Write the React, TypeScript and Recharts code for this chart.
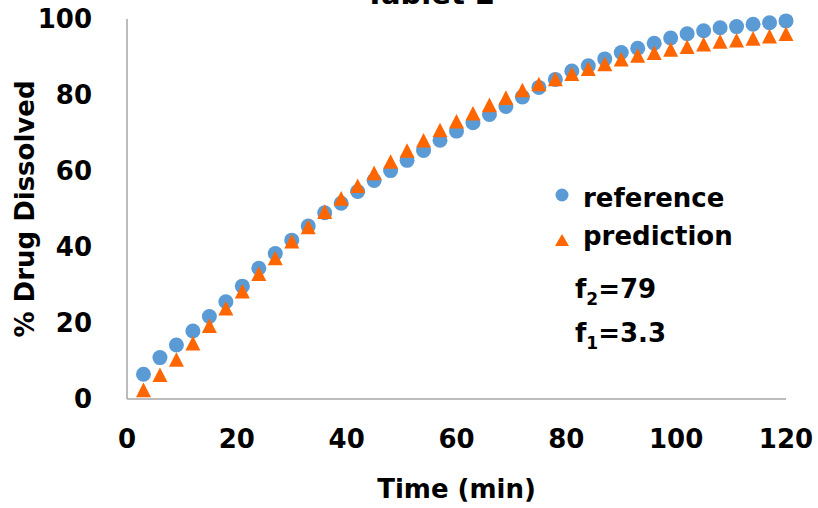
import React from 'react';
import { ScatterChart, Scatter, XAxis, YAxis, Legend } from 'recharts';

// Sampling times (min)
const times = [
  3, 6, 9, 12, 15, 18, 21, 24, 27, 30, 33, 36, 39, 42, 45, 48, 51, 54, 57, 60,
  63, 66, 69, 72, 75, 78, 81, 84, 87, 90, 93, 96, 99, 102, 105, 108, 111, 114, 117, 120,
];

// % drug dissolved, measured reference profile
const referenceValues = [
  6.5, 10.9, 14.2, 17.9, 21.7, 25.6, 29.7, 34.4, 38.3, 41.8,
  45.5, 49.0, 51.5, 54.6, 57.5, 60.1, 62.8, 65.4, 68.1, 70.5,
  72.7, 74.9, 77.0, 79.5, 82.0, 84.1, 86.3, 87.7, 89.5, 91.2,
  92.3, 93.6, 95.0, 96.1, 96.9, 97.7, 98.0, 98.6, 99.0, 99.5,
];

// % drug dissolved, model prediction
const predictionValues = [
  2.4, 6.4, 10.4, 14.7, 19.3, 23.9, 28.4, 33.0, 37.1, 41.5,
  45.3, 49.3, 52.8, 56.1, 59.5, 62.5, 65.4, 68.1, 70.8, 73.1,
  75.2, 77.4, 79.3, 81.3, 82.9, 84.2, 85.6, 86.9, 88.2, 89.4,
  90.4, 91.1, 92.0, 92.7, 93.4, 94.1, 94.4, 94.9, 95.5, 96.1,
];

const xTicks = [0, 20, 40, 60, 80, 100, 120];
const yTicks = [0, 20, 40, 60, 80, 100];

const similarityF2 = '79';
const differenceF1 = '3.3';

const BLUE = '#5B9BD5';
const ORANGE = '#FF6600';
const AXIS_GRAY = '#A6A6A6';
const FONT = "'DejaVu Sans', sans-serif";

const referenceRows = times.map((t, i) => ({ t, v: referenceValues[i] }));
const predictionRows = times.map((t, i) => ({ t, v: predictionValues[i] }));

const CircleMark = (props: any) => {
  const { cx, cy } = props;
  if (cx == null || cy == null) return null;
  return <circle cx={cx} cy={cy} r={7.5} fill={BLUE} />;
};

const TriangleMark = (props: any) => {
  const { cx, cy } = props;
  if (cx == null || cy == null) return null;
  const w = 7.5;
  const h = 7.3;
  return (
    <polygon
      points={`${cx},${cy - h} ${cx - w},${cy + h} ${cx + w},${cy + h}`}
      fill={ORANGE}
    />
  );
};

const tickStyle = { fill: '#000', fontSize: 26, fontWeight: 'bold', fontFamily: FONT };

const LegendBox = () => (
  <svg width={260} height={190} style={{ overflow: 'visible' }}>
    <circle cx={22} cy={25} r={6.5} fill={BLUE} />
    <text x={43} y={37} fontFamily={FONT} fontWeight="bold" fontSize={26} fill="#000">
      reference
    </text>
    <polygon points="22,64 15,76 29,76" fill={ORANGE} />
    <text x={43} y={75} fontFamily={FONT} fontWeight="bold" fontSize={26} fill="#000">
      prediction
    </text>
    <text x={35} y={128} fontFamily={FONT} fontWeight="bold" fontSize={26} fill="#000">
      f
      <tspan fontSize={17} dy={7}>2</tspan>
      <tspan dy={-7}>={similarityF2}</tspan>
    </text>
    <text x={35} y={172} fontFamily={FONT} fontWeight="bold" fontSize={26} fill="#000">
      f
      <tspan fontSize={17} dy={7}>1</tspan>
      <tspan dy={-7}>={differenceF1}</tspan>
    </text>
  </svg>
);

export default function App() {
  return (
    <div style={{ position: 'absolute', left: 0, top: 0, width: 818, height: 508, background: '#fff' }}>
      <ScatterChart width={818} height={508} margin={{ top: 19, right: 32, left: 0, bottom: 0 }}>
        <XAxis
          type="number"
          dataKey="t"
          domain={[0, 120]}
          ticks={xTicks}
          height={109}
          axisLine={{ stroke: AXIS_GRAY, strokeWidth: 1.5 }}
          tickLine={false}
          tickSize={0}
          tickMargin={31}
          tick={tickStyle}
          label={{
            value: 'Time (min)',
            position: 'insideBottom',
            offset: 10,
            style: { fill: '#000', fontSize: 26, fontWeight: 'bold', fontFamily: FONT },
          }}
        />
        <YAxis
          type="number"
          dataKey="v"
          domain={[0, 100]}
          ticks={yTicks}
          width={127}
          axisLine={{ stroke: AXIS_GRAY, strokeWidth: 1.5 }}
          tickLine={false}
          tickSize={0}
          tickMargin={35}
          tick={tickStyle}
          label={{
            value: '% Drug Dissolved',
            angle: -90,
            position: 'insideLeft',
            offset: 25,
            style: { textAnchor: 'middle', fill: '#000', fontSize: 26, fontWeight: 'bold', fontFamily: FONT },
          }}
        />
        <Legend
          layout="vertical"
          align="center"
          verticalAlign="middle"
          wrapperStyle={{ left: 540, top: 170, width: 260, height: 190 }}
          content={() => <LegendBox />}
        />
        <Scatter
          name="reference"
          data={referenceRows}
          fill={BLUE}
          shape={CircleMark}
          isAnimationActive={false}
        />
        <Scatter
          name="prediction"
          data={predictionRows}
          fill={ORANGE}
          shape={TriangleMark}
          isAnimationActive={false}
        />
      </ScatterChart>
      <svg
        width={818}
        height={30}
        style={{ position: 'absolute', left: 0, top: 0, pointerEvents: 'none' }}
      >
        <text x={430} y={4} textAnchor="middle" fontFamily={FONT} fontWeight="bold" fontSize={29} fill="#000">
          Tablet 2
        </text>
      </svg>
    </div>
  );
}
